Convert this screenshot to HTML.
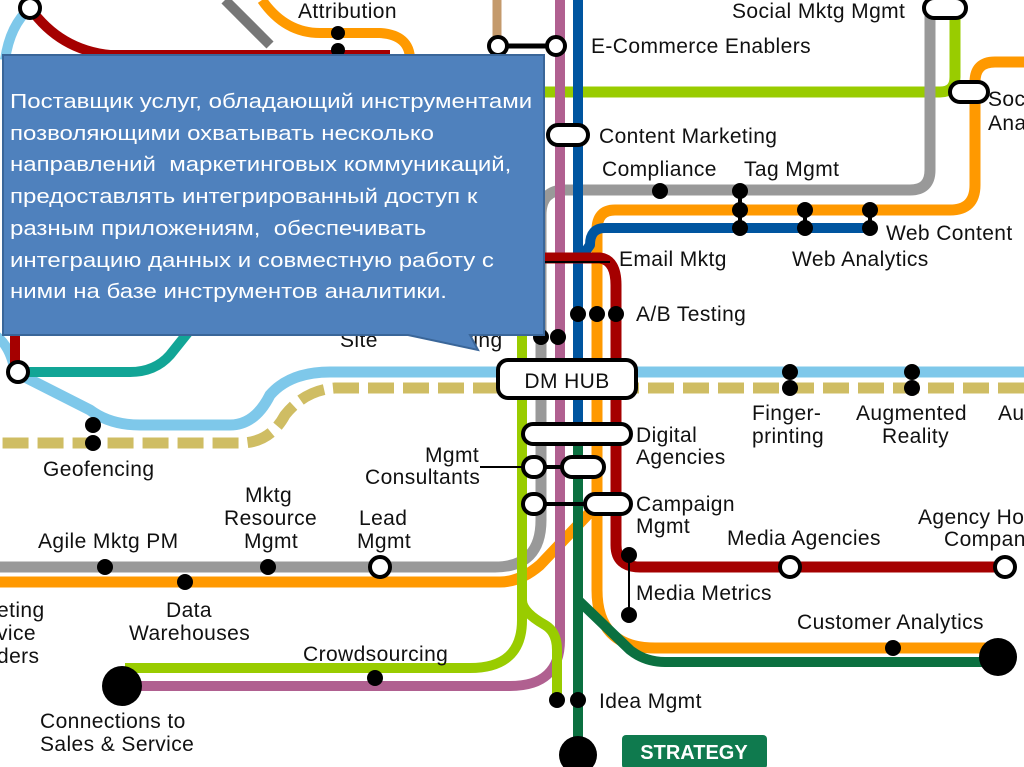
<!DOCTYPE html>
<html><head><meta charset="utf-8"><style>
html,body{margin:0;padding:0;background:#fff;}
body{width:1024px;height:767px;overflow:hidden;position:relative;font-family:"Liberation Sans",sans-serif;}
svg{position:absolute;left:0;top:0;}
.t{font-family:"Liberation Sans",sans-serif;font-size:21px;letter-spacing:0.4px;fill:#111;}
.txt{position:absolute;left:10px;top:87px;color:#fff;font-family:"Liberation Sans","DejaVu Sans",sans-serif;font-size:20px;line-height:31.7px;white-space:nowrap;transform:scaleX(1.2);transform-origin:0 0;}
</style></head><body>
<svg width="1024" height="767" viewBox="0 0 1024 767">
<g fill="none" stroke-linecap="butt" stroke-linejoin="round">
<path d="M5,60 Q10,25 30,8" stroke="#7ec8ea" stroke-width="10"/>
<path d="M30,8 Q60,50 110,55 L390,55" stroke="#a50000" stroke-width="10"/>
<path d="M225,0 L270,45" stroke="#777" stroke-width="10"/>
<path d="M262,0 Q285,33 320,33 L380,33 Q410,35 410,60" stroke="#ff9a00" stroke-width="10"/>
<path d="M497,0 L497,38" stroke="#c49a6c" stroke-width="9"/>
<path d="M540,92 L940,92 Q955,92 955,77 L955,0" stroke="#99cc00" stroke-width="11"/>
<path d="M930,10 L930,170 Q930,190 910,190 L565,190 Q541,190 541,215 L541,520 Q541,567 495,567 L0,567" stroke="#999" stroke-width="11"/>
<path d="M1024,62 L995,62 Q975,62 975,82 L975,185 Q975,210 950,210 L615,210 Q597,210 597,230 L597,590 Q597,648 655,648 L990,648" stroke="#ff9900" stroke-width="11"/>
<path d="M0,582 L500,582 Q520,582 540,565 L597,505" stroke="#ff9900" stroke-width="11"/>
<path d="M578,0 L578,440" stroke="#0055a0" stroke-width="10"/>
<path d="M870,228 L605,228 Q590,228 590,245 L583,255" stroke="#0055a0" stroke-width="10"/>
<path d="M560,0 L560,640 Q560,686 510,686 L125,686" stroke="#b06090" stroke-width="10"/>
<path d="M522,330 L522,620 Q522,668 470,668 L125,668" stroke="#99cc00" stroke-width="10"/>
<path d="M522,600 Q522,612 545,625 Q557,632 557,650 L557,700" stroke="#99cc00" stroke-width="10"/>
<path d="M578,440 L578,752" stroke="#0b7040" stroke-width="10"/>
<path d="M578,600 L630,650 Q645,662 665,662 L990,662" stroke="#0b7040" stroke-width="10"/>
<path d="M545,258 L600,258 Q616,260 616,285 L616,545 Q616,567 640,567 L1010,567" stroke="#a50000" stroke-width="11"/>
<path d="M1024,372 L330,372 Q290,372 270,395 Q255,425 230,425 L140,425 Q110,425 90,410 L15,372" stroke="#7ec8ea" stroke-width="11"/>
<path d="M15,372 Q10,345 -5,335" stroke="#7ec8ea" stroke-width="10"/>
<path d="M1024,388 L335,388 Q305,390 285,415 Q270,443 240,443 L0,443" stroke="#cfbd63" stroke-width="11" stroke-dasharray="26,9"/>
<path d="M15,372 L130,372 Q155,372 170,355 L190,330" stroke="#12a596" stroke-width="10"/>
<path d="M15,335 L15,372" stroke="#a50000" stroke-width="10"/>
</g>
<g stroke="#000" stroke-width="2">
<line x1="498" y1="46" x2="556" y2="46" stroke-width="5"/>
<line x1="629" y1="555" x2="629" y2="615"/>
<line x1="545" y1="262" x2="610" y2="262"/>
<line x1="480" y1="467" x2="525" y2="467"/>
<line x1="538" y1="504" x2="585" y2="504" stroke-width="4"/>
<line x1="540" y1="467" x2="585" y2="467" stroke-width="4"/>
<line x1="805" y1="210" x2="805" y2="228" stroke-width="4"/>
<line x1="870" y1="210" x2="870" y2="228" stroke-width="4"/>
<line x1="740" y1="191" x2="740" y2="228" stroke-width="4"/>
</g>
<g fill="#000">
<circle cx="338" cy="33" r="7"/><circle cx="338" cy="50" r="7"/>
<circle cx="660" cy="191" r="8"/><circle cx="740" cy="191" r="8"/><circle cx="740" cy="210" r="8"/><circle cx="740" cy="228" r="8"/>
<circle cx="805" cy="210" r="8"/><circle cx="805" cy="228" r="8"/><circle cx="870" cy="210" r="8"/><circle cx="870" cy="228" r="8"/>
<circle cx="578" cy="314" r="8"/><circle cx="597" cy="314" r="8"/><circle cx="616" cy="314" r="8"/>
<circle cx="541" cy="337" r="8"/><circle cx="558" cy="337" r="8"/>
<circle cx="790" cy="372" r="8"/><circle cx="790" cy="388" r="8"/><circle cx="912" cy="372" r="8"/><circle cx="912" cy="388" r="8"/>
<circle cx="93" cy="425" r="8"/><circle cx="93" cy="443" r="8"/>
<circle cx="105" cy="567" r="8"/><circle cx="268" cy="567" r="8"/><circle cx="185" cy="582" r="8"/>
<circle cx="375" cy="678" r="8"/>
<circle cx="629" cy="555" r="8"/><circle cx="629" cy="615" r="8"/><circle cx="893" cy="648" r="8"/>
<circle cx="557" cy="700" r="8"/><circle cx="578" cy="700" r="8"/>
<circle cx="122" cy="686" r="20"/><circle cx="998" cy="657" r="19"/><circle cx="578" cy="755" r="19"/>
</g>
<g fill="#fff" stroke="#000" stroke-width="4">
<circle cx="30" cy="8" r="10"/><circle cx="18" cy="372" r="10"/>
<circle cx="498" cy="46" r="9"/><circle cx="556" cy="46" r="9"/>
<circle cx="380" cy="567" r="10"/><circle cx="790" cy="567" r="10"/><circle cx="1005" cy="567" r="10"/>
<rect x="924" y="-2" width="42" height="20" rx="10"/>
<rect x="950" y="82" width="38" height="20" rx="10"/>
<rect x="548" y="125" width="40" height="20" rx="10"/>
<rect x="523" y="424" width="108" height="20" rx="10"/>
<rect x="523" y="457" width="22" height="20" rx="10"/>
<rect x="562" y="457" width="42" height="20" rx="10"/>
<rect x="523" y="494" width="22" height="20" rx="10"/>
<rect x="585" y="494" width="46" height="20" rx="10"/>
<rect x="498" y="360" width="138" height="38" rx="10"/>
</g>
<rect x="622" y="735" width="145" height="34" rx="4" fill="#0f7a4e"/>
<text x="694" y="759" text-anchor="middle" font-family="Liberation Sans" font-size="20" font-weight="bold" fill="#fff">STRATEGY</text>
<text x="567" y="388" text-anchor="middle" class="t" font-size="21">DM HUB</text>
<g class="t">
<text x="298" y="18">Attribution</text>
<text x="732" y="18">Social Mktg Mgmt</text>
<text x="591" y="53">E-Commerce Enablers</text>
<text x="988" y="106">Soc</text><text x="988" y="130">Ana</text>
<text x="599" y="143">Content Marketing</text>
<text x="602" y="176">Compliance</text><text x="744" y="176">Tag Mgmt</text>
<text x="886" y="240">Web Content</text>
<text x="619" y="266">Email Mktg</text><text x="792" y="266">Web Analytics</text>
<text x="636" y="321">A/B Testing</text>
<text x="636" y="442">Digital</text><text x="636" y="464">Agencies</text>
<text x="752" y="420">Finger-</text><text x="752" y="443">printing</text>
<text x="856" y="420">Augmented</text><text x="882" y="443">Reality</text>
<text x="998" y="420">Au</text>
<text x="636" y="511">Campaign</text><text x="636" y="533">Mgmt</text>
<text x="918" y="524">Agency Ho</text><text x="944" y="546">Compan</text>
<text x="727" y="545">Media Agencies</text>
<text x="636" y="600">Media Metrics</text>
<text x="797" y="629">Customer Analytics</text>
<text x="599" y="708">Idea Mgmt</text>
<text x="425" y="462">Mgmt</text><text x="365" y="484">Consultants</text>
<text x="43" y="476">Geofencing</text>
<text x="245" y="502">Mktg</text><text x="224" y="525">Resource</text><text x="244" y="548">Mgmt</text>
<text x="359" y="525">Lead</text><text x="357" y="548">Mgmt</text>
<text x="38" y="548">Agile Mktg PM</text>
<text x="166" y="617">Data</text><text x="129" y="640">Warehouses</text>
<text x="-3" y="617">eting</text><text x="-3" y="640">vice</text><text x="-3" y="663">ders</text>
<text x="303" y="661">Crowdsourcing</text>
<text x="40" y="728">Connections to</text><text x="40" y="751">Sales &amp; Service</text>
<text x="340" y="347">Site</text><text x="455" y="347">eting</text>
</g>
<path d="M3,55 L544,55 L544,335 L470,335 L478,350 L408,335 L3,335 Z" fill="#4f81bd" stroke="#3a6699" stroke-width="2"/>
</svg>
<div class="txt">Поставщик услуг, обладающий инструментами<br>позволяющими охватывать несколько<br>направлений&nbsp; маркетинговых коммуникаций,<br>предоставлять интегрированный доступ к<br>разным приложениям,&nbsp; обеспечивать<br>интеграцию данных и совместную работу с<br>ними на базе инструментов аналитики.</div>
</body></html>
